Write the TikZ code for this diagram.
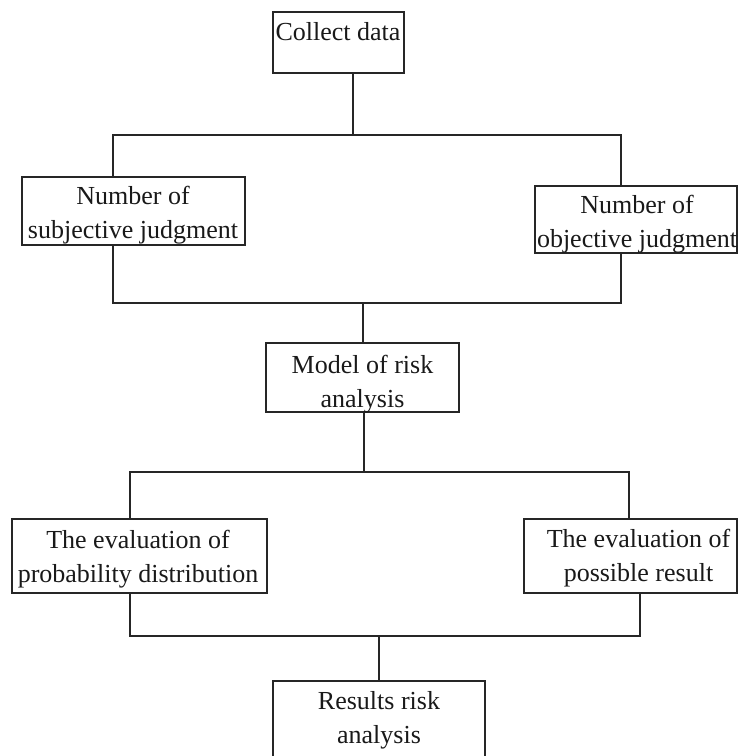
\documentclass[tikz,border=0pt]{standalone}
\usepackage{fontspec}
\setmainfont{Liberation Serif}
\begin{document}
\begin{tikzpicture}[x=1pt,y=-1pt,
  line width=1.6pt, draw=black!85,
  box/.style={draw, rectangle, inner sep=0pt, line width=1.6pt},
  txt/.style={inner sep=0pt, align=center, anchor=north,
              font=\fontsize{26}{34}\selectfont, text=black!90},
  wire/.style={line width=1.6pt, draw=black!85}]
\useasboundingbox (0,0) rectangle (738,756);

% boxes, given by centre and size
\node[box, minimum width=131pt, minimum height=61pt] (c) at (338.5,42.5) {};
\node[box, minimum width=223pt, minimum height=68pt] (s) at (133.5,211) {};
\node[box, minimum width=202pt, minimum height=67pt] (o) at (636,219.5) {};
\node[box, minimum width=193pt, minimum height=69pt] (m) at (362.5,377.5) {};
\node[box, minimum width=255pt, minimum height=74pt] (p) at (139.5,556) {};
\node[box, minimum width=213pt, minimum height=74pt] (r) at (630.5,556) {};
\node[box, minimum width=212pt, minimum height=84pt] (res) at (379,723) {};

% labels
\node[txt] (ct) at (338,22) {Collect data};
\node[txt] (st) at (133,185) {Number of\\subjective judgment};
\node[txt] (ot) at (637,194) {Number of\\objective judgment};
\node[txt] (mt) at (362.5,354) {Model of risk\\analysis};
\node[txt] (pt) at (138,529) {The evaluation of\\probability distribution};
\node[txt] (rt) at (638.5,528) {The evaluation of\\possible result};
\node[txt] (rest) at (379,691) {Results risk\\analysis};

% bus junctions
\coordinate (j1) at (353,135);
\coordinate (j1l) at (113,135);
\coordinate (j1r) at (621,135);
\coordinate (j2) at (363,303);
\coordinate (j2l) at (113,303);
\coordinate (j2r) at (621,303);
\coordinate (j3) at (364,472);
\coordinate (j3l) at (130,472);
\coordinate (j3r) at (629,472);
\coordinate (j4) at (379,636);
\coordinate (j4l) at (130,636);
\coordinate (j4r) at (640,636);

% connectors
\draw[wire] (c.south -| j1) -- (j1);
\draw[wire] (s.north -| j1l) -- (j1l) -- (j1r) -- (o.north -| j1r);
\draw[wire] (s.south -| j2l) -- (j2l) -- (j2r) -- (o.south -| j2r);
\draw[wire] (j2) -- (m.north -| j2);
\draw[wire] (m.south -| j3) -- (j3);
\draw[wire] (p.north -| j3l) -- (j3l) -- (j3r) -- (r.north -| j3r);
\draw[wire] (p.south -| j4l) -- (j4l) -- (j4r) -- (r.south -| j4r);
\draw[wire] (j4) -- (res.north -| j4);
\end{tikzpicture}
\end{document}
